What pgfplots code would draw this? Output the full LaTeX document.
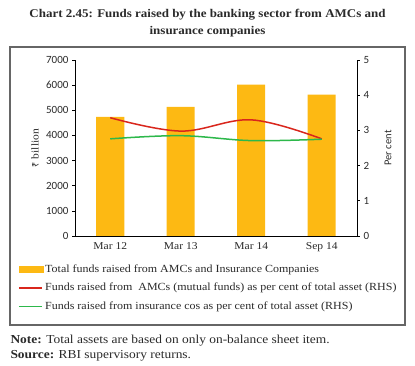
\documentclass[border=0pt]{standalone}
\usepackage{fontspec}
\setmainfont{Liberation Serif}[FakeStretch=1.1]
\newfontfamily\carlito{Carlito}
\newfontfamily\rupee{Noto Sans}
\usepackage{pgfplots}
\pgfplotsset{compat=1.18}
\definecolor{barc}{HTML}{FDB913}
\definecolor{redc}{HTML}{D9261C}
\definecolor{greenc}{HTML}{2DB84B}
\definecolor{framec}{HTML}{666666}
\definecolor{txtc}{HTML}{2A2A2A}
\begin{document}
\begin{tikzpicture}[x=1pt,y=1pt]
\useasboundingbox (0,0) rectangle (415,366);
\draw[framec, line width=1.3pt] (10,41) rectangle (405,319);
\node[font=\bfseries\fontsize{11.8}{17}\selectfont, align=center, txtc] at (207.5,342.5) {Chart 2.45: Funds raised by the banking sector from AMCs and\\insurance companies};
\begin{axis}[at={(75pt,130pt)}, anchor=south west, scale only axis, width=282pt, height=176pt,
  xmin=-0.5, xmax=3.5, ymin=0, ymax=7000,
  axis x line*=bottom, axis y line*=left,
  axis line style={-, black, line width=0.6pt},
  tick align=outside, major tick length=3pt, tick style={black, line width=0.6pt},
  xtick={0,1,2,3}, xticklabels={Mar 12,Mar 13,Mar 14,Sep 14},
  xtick style={draw=none},
  xticklabel style={font=\fontsize{10.5}{12}\selectfont, txtc},
  extra x ticks={0.5,1.5,2.5}, extra x tick labels={},
  extra x tick style={tick style={draw=black, line width=0.6pt}, major tick length=3pt},
  ytick={0,1000,...,7000}, scaled y ticks=false,
  /pgf/number format/set thousands separator={},
  /pgf/number format/assume math mode=true,
  yticklabel style={font=\carlito\fontsize{11}{12}\selectfont, txtc},
  ylabel={{\rupee\fontsize{9}{10}\selectfont ₹} billion},
  ylabel style={at={(axis description cs:-0.142,0.5)}, anchor=center, font=\fontsize{10.5}{12}\selectfont, txtc},
  clip=false]
\addplot[ybar, bar width=28pt, fill=barc, draw=none] coordinates {(0,4740)(1,5140)(2,6020)(3,5620)};
\end{axis}
\begin{axis}[at={(75pt,130pt)}, anchor=south west, scale only axis, width=282pt, height=176pt,
  xmin=-0.5, xmax=3.5, ymin=0, ymax=5,
  axis x line=none, axis y line*=right,
  axis line style={-, black, line width=0.6pt},
  tick align=outside, major tick length=3pt, tick style={black, line width=0.6pt},
  ytick={0,1,...,5},
  /pgf/number format/assume math mode=true,
  yticklabel style={font=\carlito\fontsize{11}{12}\selectfont, txtc},
  ylabel={Per cent},
  ylabel style={at={(axis description cs:1.11,0.5)}, anchor=center, font=\carlito\fontsize{10.5}{12}\selectfont, txtc},
  legend style={at={(axis description cs:-0.202,-0.15)}, anchor=north west, draw=none, fill=none,
     font=\fontsize{10.9}{12}\selectfont, row sep=5.5pt, inner sep=0pt, text=txtc},
  legend cell align=left,
  clip=false]
\addlegendimage{legend image code/.code={\fill[barc] (0pt,-3pt) rectangle (24pt,3pt);}}
\addlegendentry{Total funds raised from AMCs and Insurance Companies}
\addplot[redc, line width=1.5pt, smooth, tension=0.6, legend image code/.code={\draw[redc,line width=1.5pt] (0pt,0pt) -- (23pt,0pt);}]
  coordinates {(0,3.36)(1,2.98)(2,3.30)(3,2.76)};
\addlegendentry{Funds raised from\ \ AMCs (mutual funds) as per cent of total asset (RHS)}
\addplot[greenc, line width=1.5pt, smooth, tension=0.6, legend image code/.code={\draw[greenc,line width=1.5pt] (0pt,0pt) -- (23pt,0pt);}]
  coordinates {(0,2.76)(1,2.85)(2,2.71)(3,2.75)};
\addlegendentry{Funds raised from insurance cos as per cent of total asset (RHS)}
\end{axis}
\node[anchor=west, font=\fontsize{12.2}{14}\selectfont, txtc] at (7,25.5) {\textbf{Note:} Total assets are based on only on-balance sheet item.};
\node[anchor=west, font=\fontsize{12.2}{14}\selectfont, txtc] at (7,10.5) {\textbf{Source:} RBI supervisory returns.};
\end{tikzpicture}
\end{document}
